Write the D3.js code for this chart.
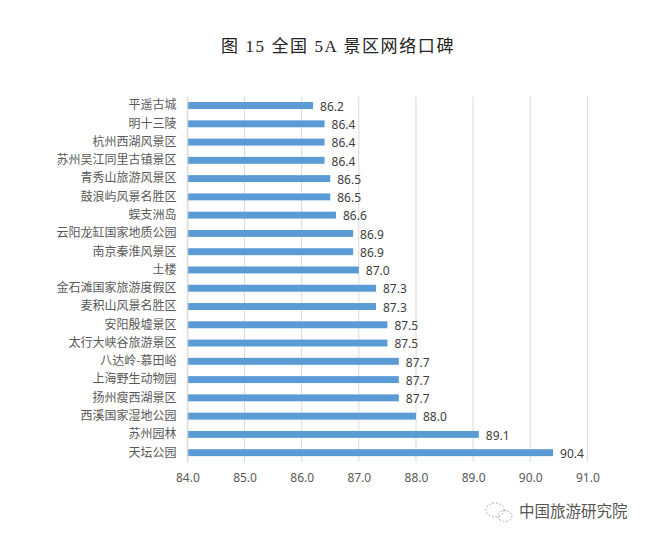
<!DOCTYPE html>
<html>
<head>
<meta charset="utf-8">
<script src="https://cdn.jsdelivr.net/npm/d3@7"></script>
<style>
  body { margin: 0; background: #fff; }
  svg { display: block; }
  text { font-family: "Noto Sans CJK SC", "Noto Sans", sans-serif; }
</style>
</head>
<body>
<svg id="viz"></svg>
<script>
// ----------------------------------------------------------------------------------------------------------------
// DATA

var spots = ["平遥古城", "明十三陵", "杭州西湖风景区", "苏州吴江同里古镇景区", "青秀山旅游风景区",
  "鼓浪屿风景名胜区", "蜈支洲岛", "云阳龙缸国家地质公园", "南京秦淮风景区", "土楼",
  "金石滩国家旅游度假区", "麦积山风景名胜区", "安阳殷墟景区", "太行大峡谷旅游景区", "八达岭-慕田峪",
  "上海野生动物园", "扬州瘦西湖景区", "西溪国家湿地公园", "苏州园林", "天坛公园"];
var scores = [86.2, 86.4, 86.4, 86.4, 86.5, 86.5, 86.6, 86.9, 86.9, 87.0,
  87.3, 87.3, 87.5, 87.5, 87.7, 87.7, 87.7, 88.0, 89.1, 90.4];
var xTicks = [84, 85, 86, 87, 88, 89, 90, 91];

// ----------------------------------------------------------------------------------------------------------------
// INITIAL SETUP

var w = 650;
var h = 539;
var viz = d3.select("#viz").attr("width", w).attr("height", h);

var x = d3.scaleLinear().domain([84, 91]).range([187.4, 587.4]);
var y = d3.scaleBand().domain(spots).range([96.4, 461.8]).paddingInner(0.62).paddingOuter(0.31);

// title
viz.append("text")
  .attr("x", 338)
  .attr("y", 52)
  .attr("text-anchor", "middle")
  .attr("font-size", 17)
  .attr("font-weight", 400)
  .attr("letter-spacing", 1.6)
  .attr("fill", "#222")
  .style("font-family", "'Liberation Serif', 'Noto Sans CJK SC', serif")
  .text("图 15 全国 5A 景区网络口碑");

// gridlines
viz.append("g")
  .selectAll("line")
  .data(xTicks)
  .enter()
  .append("line")
  .attr("x1", function(d) { return x(d); })
  .attr("x2", function(d) { return x(d); })
  .attr("y1", 96.4)
  .attr("y2", 461.8)
  .attr("stroke", "#d9d9d9")
  .attr("stroke-width", 1);

// x axis labels
var xAxis = d3.axisBottom(x).tickValues(xTicks).tickFormat(d3.format(".1f")).tickSize(0).tickPadding(12);
var gx = viz.append("g").attr("transform", "translate(0,461.8)").call(xAxis);
gx.select(".domain").remove();
gx.selectAll("text")
  .attr("font-size", 12)
  .attr("fill", "#595959")
  .style("font-family", "'Noto Sans', sans-serif");

// bars
viz.append("g")
  .selectAll("rect")
  .data(scores)
  .enter()
  .append("rect")
  .attr("x", x(84))
  .attr("y", function(d, i) { return y(spots[i]); })
  .attr("width", function(d) { return x(d) - x(84); })
  .attr("height", y.bandwidth())
  .attr("fill", "#5b9bd5");

// value labels
viz.append("g")
  .selectAll("text")
  .data(scores)
  .enter()
  .append("text")
  .attr("x", function(d) { return x(d) + 7; })
  .attr("y", function(d, i) { return y(spots[i]) + y.bandwidth() / 2 + 1; })
  .attr("dy", "0.35em")
  .attr("font-size", 12)
  .attr("fill", "#404040")
  .style("font-family", "'Noto Sans', sans-serif")
  .text(function(d) { return d3.format(".1f")(d); });

// category labels
var yAxis = d3.axisLeft(y).tickSize(0).tickPadding(11);
var gy = viz.append("g").attr("transform", "translate(" + x(84) + ",0)").call(yAxis);
gy.select(".domain").attr("stroke", "#d9d9d9");
gy.selectAll("text")
  .attr("font-size", 12)
  .attr("fill", "#595959")
  .style("font-family", "'Noto Sans CJK SC', sans-serif");

// watermark
var wm = viz.append("g").attr("transform", "translate(499,512)");
wm.append("ellipse").attr("cx", -4).attr("cy", -2).attr("rx", 9).attr("ry", 7)
  .attr("fill", "none").attr("stroke", "#999").attr("stroke-width", 1).attr("stroke-dasharray", "1.5,2");
wm.append("ellipse").attr("cx", 6).attr("cy", 4).attr("rx", 7).attr("ry", 5.5)
  .attr("fill", "none").attr("stroke", "#999").attr("stroke-width", 1).attr("stroke-dasharray", "1.5,2");
viz.append("text")
  .attr("x", 519)
  .attr("y", 517)
  .attr("font-size", 15.5)
  .attr("fill", "#555")
  .text("中国旅游研究院");
</script>
</body>
</html>
